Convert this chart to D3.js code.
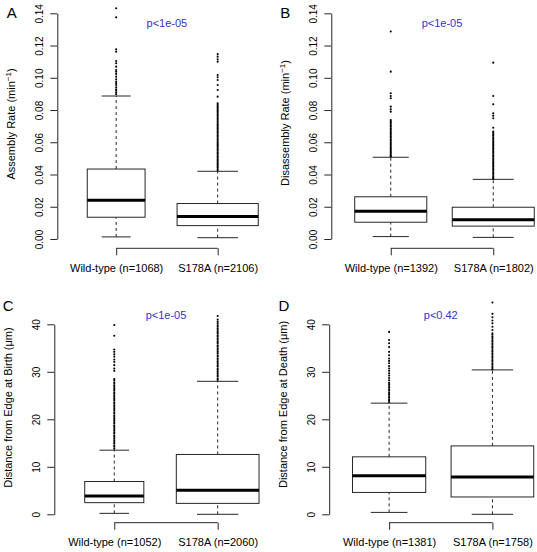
<!DOCTYPE html>
<html><head><meta charset="utf-8">
<script src="https://cdn.jsdelivr.net/npm/d3@7"></script>
<style>
body{margin:0;background:#fff}
svg{display:block;font-family:"Liberation Sans",Arial,Helvetica,sans-serif}
</style></head>
<body><svg id="chart" width="537" height="552"></svg>
<script>
// ---------------- data ----------------
const groups = ["Wild-type", "S178A"];
const panelLetters = ["A", "B", "C", "D"];
const yTitles = ["Assembly Rate", "Disassembly Rate", "Distance from Edge at Birth (\u03BCm)", "Distance from Edge at Death (\u03BCm)"];
const pLabels = ["p<1e-05", "p<1e-05", "p<1e-05", "p<0.42"];

const countsA = [1068, 2106];
const countsB = [1392, 1802];
const countsC = [1052, 2060];
const countsD = [1381, 1758];

// [lower whisker, Q1, median, Q3, upper whisker]
const statsA = [[0.0013, 0.0135, 0.024, 0.0434, 0.0887], [0.0008, 0.0083, 0.014, 0.022, 0.042]];
const statsB = [[0.0015, 0.0104, 0.0172, 0.0262, 0.0507], [0.001, 0.008, 0.012, 0.0197, 0.037]];
const statsC = [[0.2, 2.45, 3.85, 6.9, 13.5], [0, 2.3, 5.05, 12.6, 28.0]];
const statsD = [[0.4, 4.6, 8.1, 12.1, 23.4], [0, 3.65, 7.85, 14.4, 30.4]];

const outWtA = [0.1431, 0.1375, 0.1177, 0.1162, 0.1104, 0.1090, 0.1069, 0.1048, 0.1038, 0.1024, 0.1007, 0.0991, 0.0976, 0.0966, 0.0955, 0.0941, 0.0929, 0.0920, 0.0908, 0.0898];
const outMutA = [0.1147, 0.1131, 0.1115, 0.1100, 0.1017, 0.1003, 0.0986, 0.0955, 0.0924, 0.0883,
  0.0842, 0.0833, 0.0824, 0.0816, 0.0807, 0.0798, 0.0790, 0.0781, 0.0772, 0.0764, 0.0755, 0.0746, 0.0738, 0.0729, 0.0720,
  0.0712, 0.0703, 0.0694, 0.0686, 0.0677, 0.0668, 0.0660, 0.0651, 0.0642, 0.0634, 0.0625, 0.0616, 0.0608, 0.0599, 0.0590,
  0.0582, 0.0573, 0.0564, 0.0556, 0.0547, 0.0538, 0.0530, 0.0521, 0.0512, 0.0504, 0.0495, 0.0486, 0.0478, 0.0469, 0.0460,
  0.0452, 0.0443, 0.0434, 0.0426];
const outWtB = [0.1287, 0.1038, 0.0904, 0.0887, 0.0873, 0.0821, 0.0805, 0.0790, 0.0738, 0.0730, 0.0721, 0.0713, 0.0704,
  0.0696, 0.0687, 0.0679, 0.0670, 0.0662, 0.0653, 0.0645, 0.0636, 0.0628, 0.0619, 0.0611, 0.0602, 0.0594, 0.0585, 0.0577,
  0.0568, 0.0560, 0.0551, 0.0543, 0.0534, 0.0526, 0.0517, 0.0511];
const outMutB = [0.1094, 0.0887, 0.0836, 0.0780, 0.0765, 0.0749, 0.0690, 0.0666, 0.0657, 0.0648, 0.0640, 0.0631, 0.0622,
  0.0614, 0.0605, 0.0596, 0.0588, 0.0579, 0.0570, 0.0562, 0.0553, 0.0544, 0.0536, 0.0527, 0.0518, 0.0510, 0.0501, 0.0492,
  0.0484, 0.0475, 0.0466, 0.0458, 0.0449, 0.0440, 0.0432, 0.0423, 0.0414, 0.0406, 0.0397, 0.0388, 0.0380, 0.0374];
const outWtC = [39.85, 37.6, 34.7, 34.2, 33.7, 33.2, 32.6, 32.1, 31.4, 30.7, 30.2,
  28.5, 28.2, 27.8, 27.5, 27.1, 26.8, 26.4, 26.1, 25.7, 25.4, 25.0, 24.7, 24.3, 24.0, 23.6, 23.3, 22.9, 22.6, 22.2, 21.9,
  21.5, 21.2, 20.8, 20.5, 20.1, 19.8, 19.4, 19.1, 18.7, 18.4, 18.0, 17.7, 17.3, 17.0, 16.6, 16.3, 15.9, 15.6, 15.2, 14.9,
  14.5, 14.2, 13.8];
const outMutC = [41.75, 41.0, 40.6, 40.2, 39.8, 39.5, 39.1, 38.8, 38.4, 38.1, 37.7, 37.4, 37.0, 36.7, 36.3, 36.0, 35.6,
  35.3, 34.9, 34.6, 34.2, 33.9, 33.5, 33.2, 32.8, 32.5, 32.1, 31.8, 31.4, 31.1, 30.7, 30.4, 30.0, 29.7, 29.3, 29.0, 28.6, 28.3];
const outWtD = [38.4, 36.7, 36.0, 35.2, 34.2, 33.5, 32.8, 32.3, 31.8, 31.2, 30.7, 30.2, 29.7, 29.2, 28.7, 28.2, 27.7,
  27.4, 27.0, 26.7, 26.3, 26.0, 25.6, 25.3, 24.9, 24.6, 24.2, 23.9, 23.6];
const outMutD = [44.6, 42.2, 41.5, 40.8, 40.2, 39.5, 38.8, 38.1, 37.8, 37.4, 37.1, 36.7, 36.4, 36.0, 35.7, 35.3, 35.0,
  34.6, 34.3, 33.9, 33.6, 33.2, 32.9, 32.5, 32.2, 31.8, 31.5, 31.1, 30.8, 30.5];

const rateTicks = [0, 0.02, 0.04, 0.06, 0.08, 0.10, 0.12, 0.14];
const distTicks = [0, 10, 20, 30, 40];

// ---------------- layout ----------------
const panels = [
  {counts: countsA, stats: statsA, outs: [outWtA, outMutA], ticks: rateTicks, fmt: d3.format(".2f"), sup: true,
   left: 57.3, spacing: 101.5, y0: 239, y1: 13.3, bottom: 248.3, titleY: 124, letterX: 6.7, letterY: 18.3, pY: 27},
  {counts: countsB, stats: statsB, outs: [outWtB, outMutB], ticks: rateTicks, fmt: d3.format(".2f"), sup: true,
   left: 331.3, spacing: 102.5, y0: 239, y1: 13.3, bottom: 248.3, titleY: 123, letterX: 280.2, letterY: 18.3, pY: 27},
  {counts: countsC, stats: statsC, outs: [outWtC, outMutC], ticks: distTicks, fmt: d3.format("d"), sup: false,
   left: 54.3, spacing: 103.4, y0: 514.3, y1: 324.3, bottom: 522.7, titleY: 407.5, letterX: 2.7, letterY: 311, pY: 319},
  {counts: countsD, stats: statsD, outs: [outWtD, outMutD], ticks: distTicks, fmt: d3.format("d"), sup: false,
   left: 329.2, spacing: 103.3, y0: 514.3, y1: 324.3, bottom: 522.7, titleY: 404.5, letterX: 278.5, letterY: 311, pY: 319}
];

const svg = d3.select("#chart");
const ink = "#262626";

panels.forEach((p, i) => {
  const g = svg.append("g");
  const x = d3.scaleLinear().domain([0.42, 2.58]).range([p.left, p.left + 2.16 * p.spacing]);
  const y = d3.scaleLinear().domain([0, p.ticks[p.ticks.length - 1]]).range([p.y0, p.y1]);
  const maxN = d3.max(p.counts);

  // y axis
  const yAxis = d3.axisLeft(y).tickValues(p.ticks).tickFormat(p.fmt).tickSize(7).tickSizeOuter(0);
  const ya = g.append("g").attr("transform", `translate(${p.left},0)`).call(yAxis);
  ya.select(".domain").attr("stroke", ink);
  ya.selectAll(".tick line").attr("stroke", ink);
  ya.selectAll(".tick text")
    .attr("transform", "rotate(-90)").attr("x", 0).attr("y", -14).attr("dy", 0)
    .attr("text-anchor", "middle").attr("font-size", 10).attr("fill", "#000")
    .attr("font-family", "Liberation Sans, Arial, sans-serif");

  // x axis (bracket)
  const xAxis = d3.axisBottom(x).tickValues([1, 2])
    .tickFormat((d, k) => `${groups[k]} (n=${p.counts[k]})`).tickSize(7).tickSizeOuter(0);
  const xa = g.append("g").attr("transform", `translate(0,${p.bottom})`).call(xAxis);
  xa.select(".domain").remove();
  xa.append("line").attr("x1", x(1)).attr("x2", x(2)).attr("y1", 0).attr("y2", 0).attr("stroke", ink);
  xa.selectAll(".tick line").attr("stroke", ink);
  xa.selectAll(".tick text").attr("y", 23.4).attr("dy", 0).attr("font-size", 11).attr("fill", "#000")
    .attr("font-family", "Liberation Sans, Arial, sans-serif");

  // boxes
  p.stats.forEach((s, k) => {
    const cx = x(k + 1);
    const w = 0.8 * p.spacing * Math.sqrt(p.counts[k] / maxN);
    const bg = g.append("g");
    // whiskers
    bg.append("line").attr("x1", cx).attr("x2", cx).attr("y1", y(s[0])).attr("y2", y(s[1]))
      .attr("stroke", ink).attr("stroke-dasharray", "3,3");
    bg.append("line").attr("x1", cx).attr("x2", cx).attr("y1", y(s[3])).attr("y2", y(s[4]))
      .attr("stroke", ink).attr("stroke-dasharray", "3,3");
    // caps
    [s[0], s[4]].forEach(v => {
      bg.append("line").attr("x1", cx - w / 4).attr("x2", cx + w / 4).attr("y1", y(v)).attr("y2", y(v)).attr("stroke", ink);
    });
    // box
    bg.append("rect").attr("x", cx - w / 2).attr("width", w)
      .attr("y", y(s[3])).attr("height", y(s[1]) - y(s[3]))
      .attr("fill", "#fff").attr("stroke", ink);
    // median
    bg.append("line").attr("x1", cx - w / 2).attr("x2", cx + w / 2).attr("y1", y(s[2])).attr("y2", y(s[2]))
      .attr("stroke", "#000").attr("stroke-width", 3);
    // outliers
    bg.selectAll("circle.o").data(p.outs[k]).enter().append("circle").attr("class", "o")
      .attr("cx", cx).attr("cy", d => y(d)).attr("r", 1.05).attr("fill", "#000");
  });

  // y title
  const tt = g.append("text")
    .attr("transform", `translate(${p.left - 42},${p.titleY}) rotate(-90)`)
    .attr("text-anchor", "middle").attr("font-size", 11).attr("fill", "#000");
  if (p.sup) {
    tt.append("tspan").text(yTitles[i] + " (min");
    tt.append("tspan").text("\u22121").attr("font-size", 8).attr("dy", -4.5);
    tt.append("tspan").text(")").attr("dy", 4.5);
  } else {
    tt.text(yTitles[i]);
  }

  // p-value
  g.append("text").attr("x", (x(1) + x(2)) / 2).attr("y", p.pY).attr("text-anchor", "middle")
    .attr("font-size", 11).attr("fill", "#3333cc").text(pLabels[i]);

  // panel letter
  g.append("text").attr("x", p.letterX).attr("y", p.letterY).attr("font-size", 15).attr("fill", "#000")
    .text(panelLetters[i]);
});
</script>
</body></html>
